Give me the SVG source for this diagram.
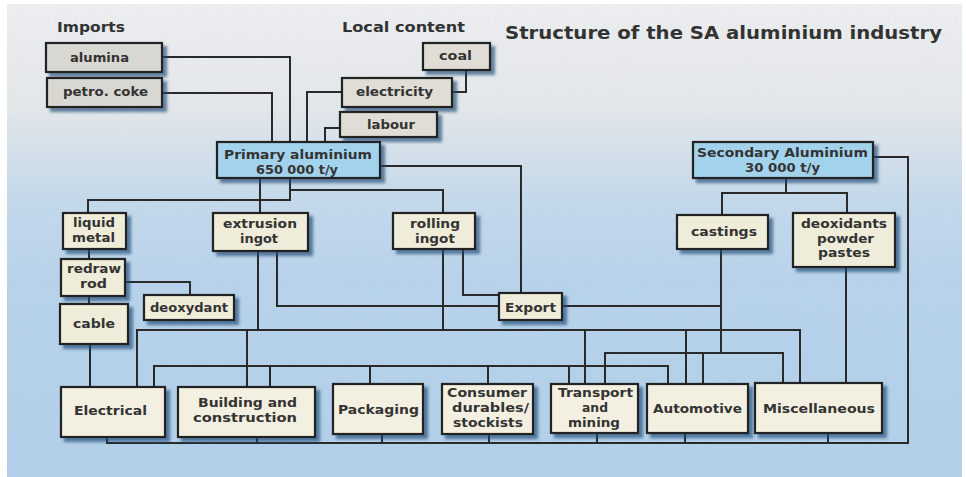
<svg xmlns="http://www.w3.org/2000/svg" width="966" height="477" viewBox="0 0 966 477">
<defs>
<linearGradient id="bg" x1="0" y1="0" x2="0" y2="1">
<stop offset="0" stop-color="#eceeef"/>
<stop offset="0.22" stop-color="#e2e7ea"/>
<stop offset="0.42" stop-color="#c2d8ea"/>
<stop offset="0.6" stop-color="#b6d2ea"/>
<stop offset="1" stop-color="#b1cfe9"/>
</linearGradient>
<filter id="noise" x="0" y="0" width="1" height="1">
<feTurbulence type="fractalNoise" baseFrequency="0.85" numOctaves="1" seed="4"/>
<feColorMatrix values="0 0 0 0 0.75  0 0 0 0 0.62  0 0 0 0 0.78  1.6 0 0 0 -0.8"/>
</filter>
<filter id="sh" x="-10%" y="-10%" width="130%" height="140%">
<feDropShadow dx="4" dy="4" stdDeviation="1.5" flood-color="#1d4a74" flood-opacity="0.65"/>
</filter>
<style>
.c{fill:none;stroke:#2a2a2a;stroke-width:2;stroke-linejoin:miter}
.b{stroke:#222;stroke-width:2.2;filter:url(#sh)}
.imp{fill:#d9d7d2}
.loc{fill:#dfddd6}
.pri{fill:#a3d2ec}
.std{fill:#efecd9}
.bot{fill:#f3f0e1}
.t{font-family:"DejaVu Sans","Liberation Sans",sans-serif;font-weight:bold;font-size:13px;fill:#333}
.h{font-family:"DejaVu Sans","Liberation Sans",sans-serif;font-weight:bold;font-size:13.5px;fill:#333}
.ti{font-family:"DejaVu Sans","Liberation Sans",sans-serif;font-weight:bold;font-size:18.5px;fill:#333}
</style>
</defs>
<rect width="966" height="477" fill="#ffffff"/>
<rect x="7" y="4" width="955" height="473" fill="url(#bg)"/>
<rect x="7" y="4" width="955" height="473" filter="url(#noise)" opacity="0.4"/>

<text class="h" x="57" y="32" textLength="68" lengthAdjust="spacingAndGlyphs">Imports</text>
<text class="h" x="342" y="32" textLength="123" lengthAdjust="spacingAndGlyphs">Local content</text>
<text class="ti" x="505" y="39" textLength="437" lengthAdjust="spacingAndGlyphs">Structure of the SA aluminium industry</text>

<g id="connectors">
<path class="c" d="M162 57 H290 V142"/>
<path class="c" d="M162 93 H272 V142"/>
<path class="c" d="M342 92 H307 V142"/>
<path class="c" d="M340 128 H325 V142"/>
<path class="c" d="M466 70 V92 H452"/>
<path class="c" d="M260 178 V213"/>
<path class="c" d="M290 178 V200 H88 V213"/>
<path class="c" d="M290 190 H443 V213"/>
<path class="c" d="M380 166 H521 V293"/>
<path class="c" d="M89 249 V259"/>
<path class="c" d="M89 296 V304"/>
<path class="c" d="M125 282 H190 V295"/>
<path class="c" d="M90 344 V387"/>
<path class="c" d="M258 251 V330"/>
<path class="c" d="M277 251 V306 H499"/>
<path class="c" d="M443 249 V330"/>
<path class="c" d="M463 249 V295 H499"/>
<path class="c" d="M562 306 H720"/>
<path class="c" d="M721 249 V353"/>
<path class="c" d="M137 387 V330 H800 V383"/>
<path class="c" d="M247 330 V387"/>
<path class="c" d="M585 330 V384"/>
<path class="c" d="M686 330 V384"/>
<path class="c" d="M154 387 V366 H668 V384"/>
<path class="c" d="M270 366 V387"/>
<path class="c" d="M370 366 V384"/>
<path class="c" d="M488 366 V384"/>
<path class="c" d="M569 366 V384"/>
<path class="c" d="M605 384 V353 H783 V383"/>
<path class="c" d="M703 353 V384"/>
<path class="c" d="M846 267 V383"/>
<path class="c" d="M786 178 V193"/>
<path class="c" d="M722 215 V193 H847 V213"/>
<path class="c" d="M873 157 H908 V443 H107 V437"/>
<path class="c" d="M257 437 V443 M382 434 V443 M489 434 V443 M597 433 V443 M685 433 V443 M828 433 V443"/>
</g>

<g id="alumina"><rect class="b imp" x="46" y="43" width="116" height="29"/><text class="t" x="70" y="62" textLength="59" lengthAdjust="spacingAndGlyphs">alumina</text></g>
<g id="petro-coke"><rect class="b imp" x="47" y="78" width="115" height="29"/><text class="t" x="63" y="96" textLength="85" lengthAdjust="spacingAndGlyphs">petro. coke</text></g>
<g id="coal"><rect class="b loc" x="423" y="43" width="67" height="27"/><text class="t" x="439" y="60" textLength="33" lengthAdjust="spacingAndGlyphs">coal</text></g>
<g id="electricity"><rect class="b loc" x="342" y="78" width="110" height="29"/><text class="t" x="356" y="96" textLength="77" lengthAdjust="spacingAndGlyphs">electricity</text></g>
<g id="labour"><rect class="b loc" x="340" y="112" width="97" height="25"/><text class="t" x="367" y="129" textLength="48" lengthAdjust="spacingAndGlyphs">labour</text></g>
<g id="primary"><rect class="b pri" x="217" y="142" width="163" height="36"/><text class="t" x="224" y="159" textLength="148" lengthAdjust="spacingAndGlyphs">Primary aluminium</text><text class="t" x="256" y="174" textLength="82" lengthAdjust="spacingAndGlyphs">650 000 t/y</text></g>
<g id="secondary"><rect class="b pri" x="693" y="142" width="180" height="36"/><text class="t" x="697" y="157" textLength="171" lengthAdjust="spacingAndGlyphs">Secondary Aluminium</text><text class="t" x="745" y="172" textLength="75" lengthAdjust="spacingAndGlyphs">30 000 t/y</text></g>
<g id="liquid-metal"><rect class="b std" x="63" y="213" width="63" height="36"/><text class="t" x="73" y="227" textLength="42" lengthAdjust="spacingAndGlyphs">liquid</text><text class="t" x="72" y="242" textLength="43" lengthAdjust="spacingAndGlyphs">metal</text></g>
<g id="extrusion-ingot"><rect class="b std" x="213" y="213" width="95" height="38"/><text class="t" x="223" y="228" textLength="74" lengthAdjust="spacingAndGlyphs">extrusion</text><text class="t" x="240" y="243" textLength="38" lengthAdjust="spacingAndGlyphs">ingot</text></g>
<g id="rolling-ingot"><rect class="b std" x="393" y="213" width="82" height="36"/><text class="t" x="410" y="228" textLength="50" lengthAdjust="spacingAndGlyphs">rolling</text><text class="t" x="415" y="243" textLength="40" lengthAdjust="spacingAndGlyphs">ingot</text></g>
<g id="redraw-rod"><rect class="b std" x="61" y="259" width="64" height="37"/><text class="t" x="67" y="273" textLength="54" lengthAdjust="spacingAndGlyphs">redraw</text><text class="t" x="80" y="288" textLength="27" lengthAdjust="spacingAndGlyphs">rod</text></g>
<g id="deoxydant"><rect class="b std" x="144" y="295" width="90" height="25"/><text class="t" x="150" y="312" textLength="78" lengthAdjust="spacingAndGlyphs">deoxydant</text></g>
<g id="cable"><rect class="b std" x="60" y="304" width="68" height="40"/><text class="t" x="73" y="328" textLength="42" lengthAdjust="spacingAndGlyphs">cable</text></g>
<g id="castings"><rect class="b std" x="677" y="215" width="91" height="34"/><text class="t" x="691" y="236" textLength="66" lengthAdjust="spacingAndGlyphs">castings</text></g>
<g id="deoxidants"><rect class="b std" x="793" y="213" width="102" height="54"/><text class="t" x="801" y="228" textLength="86" lengthAdjust="spacingAndGlyphs">deoxidants</text><text class="t" x="817" y="243" textLength="57" lengthAdjust="spacingAndGlyphs">powder</text><text class="t" x="818" y="257" textLength="52" lengthAdjust="spacingAndGlyphs">pastes</text></g>
<g id="export"><rect class="b std" x="499" y="293" width="63" height="27"/><text class="t" x="505" y="312" textLength="51" lengthAdjust="spacingAndGlyphs">Export</text></g>
<g id="electrical"><rect class="b bot" x="61" y="387" width="104" height="50"/><text class="t" x="74" y="415" textLength="73" lengthAdjust="spacingAndGlyphs">Electrical</text></g>
<g id="building"><rect class="b bot" x="178" y="387" width="137" height="50"/><text class="t" x="198" y="407" textLength="99" lengthAdjust="spacingAndGlyphs">Building and</text><text class="t" x="193" y="422" textLength="104" lengthAdjust="spacingAndGlyphs">construction</text></g>
<g id="packaging"><rect class="b bot" x="333" y="384" width="90" height="50"/><text class="t" x="338" y="414" textLength="81" lengthAdjust="spacingAndGlyphs">Packaging</text></g>
<g id="consumer"><rect class="b bot" x="442" y="384" width="91" height="50"/><text class="t" x="447" y="397" textLength="80" lengthAdjust="spacingAndGlyphs">Consumer</text><text class="t" x="452" y="412" textLength="77" lengthAdjust="spacingAndGlyphs">durables/</text><text class="t" x="453" y="427" textLength="70" lengthAdjust="spacingAndGlyphs">stockists</text></g>
<g id="transport"><rect class="b bot" x="551" y="384" width="87" height="49"/><text class="t" x="558" y="397" textLength="75" lengthAdjust="spacingAndGlyphs">Transport</text><text class="t" x="582" y="412" textLength="26" lengthAdjust="spacingAndGlyphs">and</text><text class="t" x="568" y="427" textLength="52" lengthAdjust="spacingAndGlyphs">mining</text></g>
<g id="automotive"><rect class="b bot" x="647" y="384" width="101" height="49"/><text class="t" x="653" y="413" textLength="89" lengthAdjust="spacingAndGlyphs">Automotive</text></g>
<g id="miscellaneous"><rect class="b bot" x="755" y="383" width="127" height="50"/><text class="t" x="763" y="413" textLength="112" lengthAdjust="spacingAndGlyphs">Miscellaneous</text></g>
</svg>
